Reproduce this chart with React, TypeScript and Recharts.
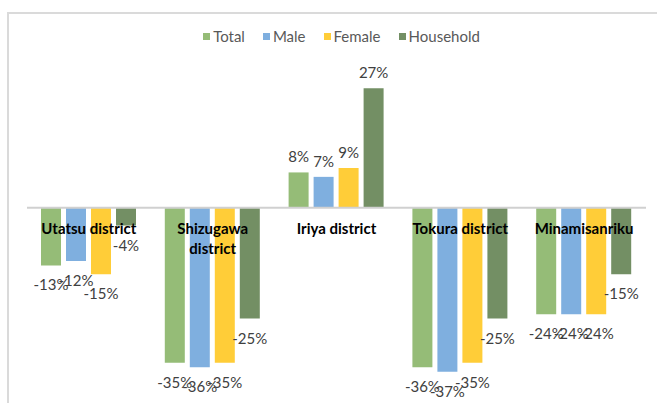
import React from "react";
import { BarChart, Bar, XAxis, YAxis, Legend, LabelList, ReferenceLine } from "recharts";

const categories = ["Utatsu district", "Shizugawa district", "Iriya district", "Tokura district", "Minamisanriku"];
const total = [-13, -35, 8, -36, -24];
const male = [-12, -36, 7, -37, -24];
const female = [-15, -35, 9, -35, -24];
const household = [-4, -25, 27, -25, -15];

const series = [
  { key: "total", name: "Total", color: "#95BC77" },
  { key: "male", name: "Male", color: "#7FAFDF" },
  { key: "female", name: "Female", color: "#FFCD38" },
  { key: "household", name: "Household", color: "#738F64" },
];

const data = categories.map((c, i) => ({
  name: c,
  total: total[i],
  male: male[i],
  female: female[i],
  household: household[i],
}));

const FONT = "Lato, 'Open Sans', sans-serif";

function ValueLabel(props: any) {
  const { x, y, width, height, value } = props;
  if (value == null) return null;
  const top = Math.min(y, y + height);
  const bottom = Math.max(y, y + height);
  const cy = value < 0 ? bottom + 19 : top - 16;
  return (
    <text
      x={x + width / 2}
      y={cy}
      textAnchor="middle"
      dominantBaseline="central"
      fontFamily={FONT}
      fontSize={15}
      fill="#404040"
    >
      {`${value}%`}
    </text>
  );
}

// wraps long names the way Excel does it in narrow categories
function splitName(name: string) {
  if (name.length <= 16) return [name];
  const i = name.lastIndexOf(" ");
  return [name.slice(0, i), name.slice(i + 1)];
}

function CategoryLabels(props: any) {
  const vb = props.viewBox || {};
  const { x = 0, y = 0, width = 0 } = vb;
  const step = width / categories.length;
  return (
    <g>
      {categories.map((c, i) => {
        const lines = splitName(c);
        return (
          <text
            key={c}
            x={x + step * (i + 0.5)}
            y={y + 20}
            textAnchor="middle"
            dominantBaseline="central"
            fontFamily={FONT}
            fontSize={15}
            fontWeight={700}
            fill="#000"
          >
            {lines.map((l, j) => (
              <tspan key={j} x={x + step * (i + 0.5)} dy={j === 0 ? 0 : 20}>
                {l}
              </tspan>
            ))}
          </text>
        );
      })}
    </g>
  );
}

function LegendRow() {
  return (
    <div
      style={{
        display: "flex",
        justifyContent: "center",
        alignItems: "center",
        fontFamily: FONT,
        fontSize: 15,
        color: "#595959",
        paddingLeft: 44,
      }}
    >
      {series.map((s) => (
        <div key={s.key} style={{ display: "flex", alignItems: "center", marginRight: 18 }}>
          <span style={{ width: 7, height: 7, background: s.color, marginRight: 3, display: "inline-block" }} />
          <span>{s.name}</span>
        </div>
      ))}
    </div>
  );
}

export default function App() {
  return (
    <div
      style={{
        position: "fixed",
        left: 0,
        top: 0,
        width: 657,
        height: 403,
        overflow: "hidden",
        background: "#fff",
      }}
    >
      <div
        style={{
          position: "absolute",
          left: 7,
          top: 12,
          width: 720,
          height: 480,
          border: "2px solid #DADADA",
        }}
      />
      <div style={{ position: "absolute", left: 0, top: 0 }}>
        <BarChart
          width={657}
          height={403}
          data={data}
          margin={{ top: 75, right: 11, bottom: 18, left: 27 }}
          barSize={20}
          barGap={5}
        >
          <XAxis dataKey="name" hide />
          <YAxis hide domain={[-40, 30]} />
          <Legend
            verticalAlign="middle"
            align="center"
            wrapperStyle={{ top: 27, left: 0, width: 657 }}
            content={<LegendRow />}
          />
          {series.map((s) => (
            <Bar key={s.key} dataKey={s.key} name={s.name} fill={s.color} isAnimationActive={false}>
              <LabelList dataKey={s.key} content={<ValueLabel />} />
            </Bar>
          ))}
          <ReferenceLine y={0} stroke="#D0D0D0" strokeWidth={2} label={<CategoryLabels />} />
        </BarChart>
      </div>
    </div>
  );
}
